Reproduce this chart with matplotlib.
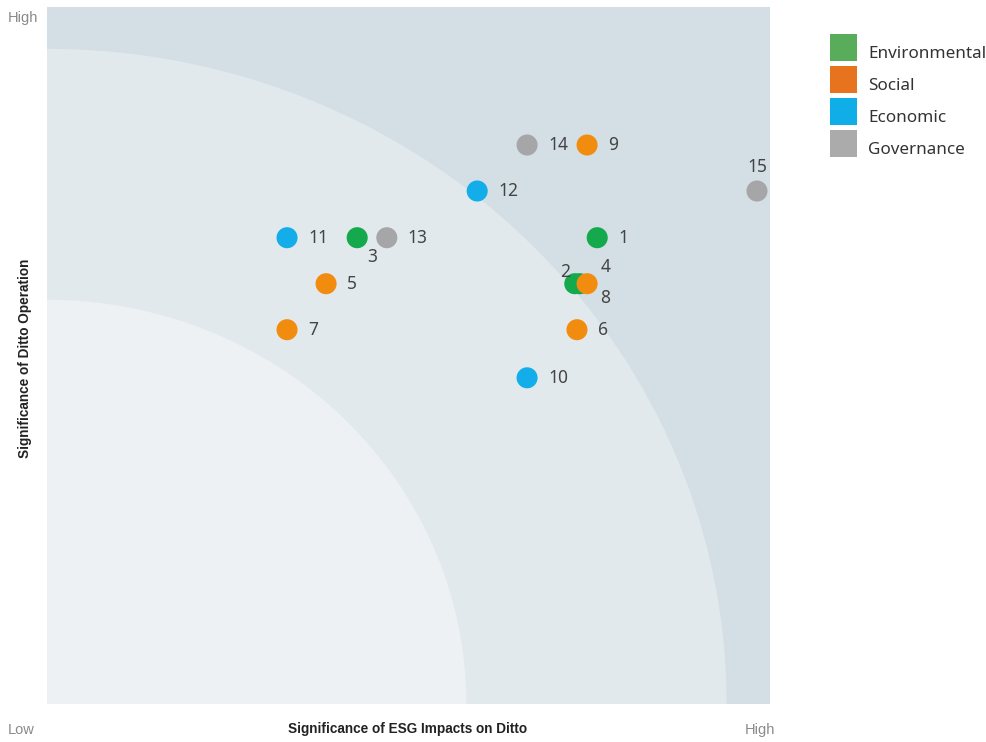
import matplotlib
matplotlib.use("Agg")
import matplotlib.pyplot as plt
from matplotlib.patches import Circle, Rectangle

# Material topics: id, category, impact significance (x), operational significance (y)
topic_ids = ["1", "2", "3", "4", "5", "6", "7", "8", "9", "10", "11", "12", "13", "14", "15"]
categories = ["Environmental", "Environmental", "Environmental", "Environmental",
              "Social", "Social", "Social", "Social", "Social",
              "Economic", "Economic", "Economic",
              "Governance", "Governance", "Governance"]
impact = [7.61, 7.30, 4.29, 7.37, 3.86, 7.33, 3.32, 7.47, 7.47, 6.64, 3.32, 5.95, 4.70, 6.64, 9.82]
operation = [6.69, 6.03, 6.69, 6.03, 6.03, 5.37, 5.37, 6.03, 8.02, 4.68, 6.69, 7.36, 6.69, 8.02, 7.36]

legend_labels = ["Environmental", "Social", "Economic", "Governance"]
marker_colors = {"Environmental": "#13a94c", "Social": "#f28c0f",
                 "Economic": "#13aee9", "Governance": "#a6a6a9"}
legend_colors = {"Environmental": "#58ac5a", "Social": "#e8731e",
                 "Economic": "#10aee8", "Governance": "#ababab"}

# label offsets in pixels (dx, dy, ha, va)
label_pos = {
    "3": (15, -19, "center", "center"),
    "2": (-10, 12, "center", "center"),
    "4": (26, 17, "center", "center"),
    "8": (18, -14, "center", "center"),
    "15": (0, 24, "center", "center"),
}

fig = plt.figure(figsize=(9.87, 7.42), dpi=100)
ax = fig.add_axes([47 / 987, 38 / 742, 723 / 987, 697 / 742])
ax.set_xlim(0, 10)
ax.set_ylim(0, 10)
ax.set_facecolor("#d4dee5")

# concentric significance zones from the low/low corner
ax.add_patch(Circle((0, 0), 9.4, facecolor="#e2e9ed", edgecolor="none", zorder=0))
ax.add_patch(Circle((0, 0), 5.8, facecolor="#edf1f4", edgecolor="none", zorder=0))

for s in ax.spines.values():
    s.set_visible(False)
ax.set_xticks([])
ax.set_yticks([])

for tid, cat, x, y in zip(topic_ids, categories, impact, operation):
    ax.scatter(x, y, s=230, color=marker_colors[cat], edgecolors="none", zorder=3)

for tid, cat, x, y in zip(topic_ids, categories, impact, operation):
    dx, dy, ha, va = label_pos.get(tid, (21, 0, "left", "center"))
    ax.annotate(tid, (x, y), xytext=(dx, dy), textcoords="offset pixels",
                ha=ha, va=va, fontsize=12.5, color="#444444",
                family="Noto Sans", zorder=4)

# axis annotations
fig.text(8 / 987, 1 - 18 / 742, "High", fontsize=10.5, color="#8a8a8a",
         ha="left", va="center", family="Liberation Sans")
fig.text(8 / 987, 1 - 730 / 742, "Low", fontsize=10.5, color="#8a8a8a",
         ha="left", va="center", family="Liberation Sans")
fig.text(760 / 987, 1 - 730 / 742, "High", fontsize=10.5, color="#8a8a8a",
         ha="center", va="center", family="Liberation Sans")
fig.text(408 / 987, 1 - 729 / 742, "Significance of ESG Impacts on Ditto", fontsize=9.8,
         fontweight="bold", color="#222222", ha="center", va="center",
         family="Liberation Sans")
fig.text(25 / 987, 1 - 358 / 742, "Significance of Ditto Operation", fontsize=9.8,
         fontweight="bold", color="#222222", ha="center", va="center",
         rotation=90, family="Liberation Sans")

# legend
for i, lab in enumerate(legend_labels):
    ytop = 34 + i * 32
    fig.patches.append(Rectangle((830 / 987, 1 - (ytop + 27) / 742), 27 / 987, 27 / 742,
                                 transform=fig.transFigure, facecolor=legend_colors[lab],
                                 edgecolor="none"))
    fig.text(868 / 987, 1 - (ytop + 20) / 742, lab, fontsize=12.3, color="#333333",
             ha="left", va="center", family="Noto Sans")

fig.savefig("out.png", dpi=100, facecolor="white")
